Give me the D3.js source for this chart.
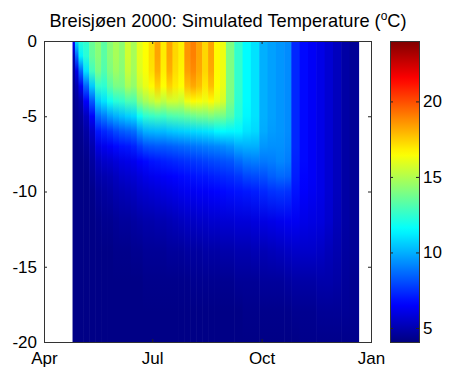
<!DOCTYPE html>
<html>
<head>
<meta charset="utf-8">
<script src="https://cdn.jsdelivr.net/npm/d3@7"></script>
<style>
  body { margin: 0; background: #fff; }
  text { font-family: Arial, "Liberation Sans", sans-serif; }
</style>
</head>
<body>
<svg id="chart" width="450" height="371"></svg>
<script>
// depth (m) of each value in a profile
const depths = [0, 1, 2, 3, 4, 5, 6, 7, 8, 9, 10, 12, 14, 16, 18, 20];

// start date of each simulated profile; the last one runs to endDate
const dates = [
  "2000-04-25", "2000-04-27", "2000-04-30", "2000-05-04", "2000-05-09", "2000-05-14",
  "2000-05-19", "2000-05-24", "2000-05-29", "2000-06-03", "2000-06-08", "2000-06-13",
  "2000-06-18", "2000-06-23", "2000-06-28", "2000-07-03", "2000-07-08", "2000-07-13",
  "2000-07-18", "2000-07-23", "2000-07-28", "2000-08-02", "2000-08-07", "2000-08-12",
  "2000-08-17", "2000-08-22", "2000-08-27", "2000-09-01", "2000-09-08", "2000-09-15",
  "2000-09-22", "2000-09-29", "2000-10-06", "2000-10-13", "2000-10-20", "2000-10-26",
  "2000-11-02", "2000-11-09", "2000-11-16", "2000-11-23", "2000-11-30", "2000-12-07",
  "2000-12-14"
];
const endDate = "2000-12-22";

// temperature (degC) profiles, one per date, values at `depths`
const temps = [
  [6.5, 5.0, 4.5, 4.3, 4.2, 4.2, 4.2, 4.2, 4.2, 4.2, 4.2, 4.2, 4.2, 4.2, 4.2, 4.2],
  [11.0, 8.5, 6.0, 5.0, 4.6, 4.4, 4.3, 4.2, 4.2, 4.2, 4.2, 4.2, 4.2, 4.2, 4.2, 4.2],
  [12.3, 11.3, 8.5, 6.3, 5.0, 4.6, 4.4, 4.3, 4.2, 4.2, 4.2, 4.2, 4.2, 4.2, 4.2, 4.2],
  [12.5, 12.3, 11.0, 8.5, 6.5, 5.3, 4.8, 4.5, 4.3, 4.2, 4.2, 4.2, 4.2, 4.2, 4.2, 4.2],
  [13.6, 13.5, 12.8, 10.5, 8.3, 6.5, 5.5, 5.0, 4.7, 4.5, 4.3, 4.2, 4.2, 4.2, 4.2, 4.2],
  [14.3, 14.2, 13.9, 12.5, 10.5, 8.6, 7.0, 6.0, 5.3, 4.9, 4.6, 4.3, 4.2, 4.2, 4.2, 4.2],
  [13.3, 13.3, 13.1, 12.4, 11.0, 9.0, 7.3, 6.2, 5.5, 5.0, 4.7, 4.4, 4.2, 4.2, 4.2, 4.2],
  [14.2, 14.2, 14.0, 13.3, 11.8, 9.6, 7.6, 6.4, 5.6, 5.1, 4.8, 4.4, 4.2, 4.2, 4.2, 4.2],
  [14.8, 14.8, 14.6, 13.9, 12.3, 10.0, 8.0, 6.7, 5.8, 5.3, 5.0, 4.5, 4.3, 4.2, 4.2, 4.2],
  [14.3, 14.3, 14.2, 13.9, 12.5, 10.3, 8.3, 6.9, 6.0, 5.5, 5.1, 4.6, 4.3, 4.2, 4.2, 4.2],
  [15.6, 15.6, 15.4, 14.8, 13.0, 10.6, 8.5, 7.0, 6.1, 5.6, 5.2, 4.6, 4.3, 4.2, 4.2, 4.2],
  [14.8, 14.8, 14.7, 14.4, 13.0, 10.8, 8.7, 7.2, 6.2, 5.7, 5.3, 4.7, 4.4, 4.2, 4.2, 4.2],
  [16.0, 16.0, 15.9, 15.5, 14.2, 11.8, 9.5, 7.7, 6.5, 5.9, 5.5, 4.8, 4.4, 4.2, 4.2, 4.2],
  [16.5, 16.5, 16.4, 16.1, 14.8, 12.4, 10.0, 8.1, 6.7, 6.1, 5.6, 4.9, 4.5, 4.3, 4.2, 4.2],
  [17.2, 17.2, 17.1, 16.6, 15.2, 12.6, 10.1, 8.2, 6.9, 6.2, 5.7, 4.9, 4.5, 4.3, 4.2, 4.2],
  [18.3, 18.3, 18.1, 17.4, 15.6, 12.8, 10.2, 8.3, 7.0, 6.3, 5.8, 5.0, 4.5, 4.3, 4.2, 4.2],
  [16.9, 16.9, 16.8, 16.5, 15.2, 12.7, 10.2, 8.3, 7.1, 6.4, 5.9, 5.0, 4.5, 4.3, 4.2, 4.2],
  [18.3, 18.3, 18.1, 17.4, 15.6, 13.0, 10.4, 8.4, 7.2, 6.5, 6.0, 5.1, 4.6, 4.3, 4.2, 4.2],
  [17.3, 17.3, 17.2, 16.9, 15.6, 13.1, 10.5, 8.5, 7.3, 6.6, 6.1, 5.2, 4.6, 4.3, 4.2, 4.2],
  [16.8, 16.8, 16.7, 16.5, 15.4, 13.2, 10.6, 8.6, 7.4, 6.7, 6.2, 5.3, 4.6, 4.3, 4.2, 4.2],
  [18.6, 18.6, 18.4, 17.8, 16.2, 13.4, 10.7, 8.7, 7.5, 6.8, 6.3, 5.4, 4.7, 4.3, 4.2, 4.2],
  [19.0, 19.0, 18.8, 18.2, 16.6, 13.6, 10.8, 8.8, 7.6, 6.9, 6.3, 5.4, 4.7, 4.4, 4.2, 4.2],
  [18.3, 18.3, 18.2, 17.8, 16.4, 13.8, 10.9, 8.9, 7.7, 7.0, 6.4, 5.5, 4.7, 4.4, 4.2, 4.2],
  [17.3, 17.3, 17.3, 17.0, 16.2, 13.8, 11.0, 9.0, 7.8, 7.0, 6.4, 5.5, 4.8, 4.4, 4.2, 4.2],
  [18.3, 18.3, 18.2, 17.8, 16.6, 14.0, 11.1, 9.1, 7.9, 7.1, 6.5, 5.6, 4.8, 4.4, 4.2, 4.2],
  [16.6, 16.6, 16.6, 16.5, 16.1, 13.8, 11.4, 9.2, 8.0, 7.2, 6.6, 5.6, 4.8, 4.4, 4.2, 4.2],
  [16.2, 16.2, 16.2, 16.1, 15.7, 13.8, 11.5, 9.3, 8.1, 7.3, 6.7, 5.7, 4.9, 4.4, 4.2, 4.2],
  [14.0, 14.0, 14.0, 14.0, 13.9, 13.2, 11.4, 9.5, 8.2, 7.4, 6.8, 5.7, 4.9, 4.4, 4.2, 4.2],
  [12.5, 12.5, 12.5, 12.5, 12.4, 12.2, 11.4, 9.9, 8.6, 7.6, 6.9, 5.8, 5.0, 4.5, 4.2, 4.2],
  [11.5, 11.5, 11.5, 11.5, 11.5, 11.4, 11.0, 10.0, 8.9, 7.9, 7.0, 5.8, 5.0, 4.5, 4.3, 4.2],
  [11.0, 11.0, 11.0, 11.0, 11.0, 11.0, 10.8, 10.0, 9.0, 8.0, 7.1, 5.9, 5.1, 4.5, 4.3, 4.2],
  [10.0, 10.0, 10.0, 10.0, 10.0, 10.0, 9.9, 9.5, 8.9, 8.1, 7.3, 6.0, 5.1, 4.6, 4.3, 4.2],
  [9.7, 9.7, 9.7, 9.7, 9.7, 9.7, 9.6, 9.4, 9.0, 8.4, 7.5, 6.1, 5.2, 4.6, 4.3, 4.2],
  [9.5, 9.5, 9.5, 9.5, 9.5, 9.5, 9.5, 9.4, 9.2, 8.6, 7.6, 6.2, 5.3, 4.6, 4.3, 4.2],
  [9.3, 9.3, 9.3, 9.3, 9.3, 9.3, 9.3, 9.2, 9.0, 8.5, 7.5, 6.3, 5.4, 4.7, 4.3, 4.2],
  [7.3, 7.3, 7.3, 7.3, 7.3, 7.3, 7.3, 7.3, 7.2, 7.1, 6.9, 6.3, 5.5, 4.8, 4.4, 4.2],
  [6.7, 6.7, 6.7, 6.7, 6.7, 6.7, 6.7, 6.7, 6.7, 6.6, 6.5, 6.1, 5.5, 4.8, 4.4, 4.3],
  [6.4, 6.4, 6.4, 6.4, 6.4, 6.4, 6.4, 6.4, 6.4, 6.4, 6.3, 6.0, 5.5, 4.8, 4.4, 4.3],
  [6.1, 6.1, 6.1, 6.1, 6.1, 6.1, 6.1, 6.1, 6.1, 6.1, 6.1, 5.9, 5.4, 4.9, 4.5, 4.3],
  [5.7, 5.7, 5.7, 5.7, 5.7, 5.7, 5.7, 5.7, 5.7, 5.7, 5.7, 5.6, 5.2, 4.9, 4.5, 4.3],
  [5.3, 5.3, 5.3, 5.3, 5.3, 5.3, 5.3, 5.3, 5.3, 5.3, 5.3, 5.2, 5.0, 4.8, 4.5, 4.3],
  [4.8, 4.8, 4.8, 4.8, 4.8, 4.8, 4.8, 4.8, 4.8, 4.8, 4.8, 4.8, 4.7, 4.6, 4.5, 4.3],
  [4.5, 4.5, 4.5, 4.5, 4.5, 4.5, 4.5, 4.5, 4.5, 4.5, 4.5, 4.5, 4.5, 4.4, 4.4, 4.3]
];

const monthTicks = ["2000-04-01", "2000-07-01", "2000-10-01", "2001-01-01"];
const monthLabels = ["Apr", "Jul", "Oct", "Jan"];
const depthTicks = [0, -5, -10, -15, -20];
const colorTicks = [5, 10, 15, 20];
const tempRange = [4.07, 24];

const parse = d3.utcParse("%Y-%m-%d");
const svg = d3.select("#chart");
const margin = {top: 41, right: 79, bottom: 29, left: 44};
const width = 450, height = 371;

const x = d3.scaleUtc()
    .domain([parse(monthTicks[0]), parse(monthTicks[3])])
    .range([margin.left, width - margin.right]);
const y = d3.scaleLinear()
    .domain([-20, 0])
    .range([height - margin.bottom, margin.top]);

// matlab jet
function jet(t) {
    const c = v => Math.max(0, Math.min(1, 1.5 - Math.abs(v)));
    return d3.rgb(255 * c(4 * t - 3), 255 * c(4 * t - 2), 255 * c(4 * t - 1)).toString();
}
const color = d3.scaleSequential(jet).domain(tempRange);

const defs = svg.append("defs");

// one vertical gradient per profile
dates.forEach((d, i) => {
    const g = defs.append("linearGradient")
        .attr("id", "col" + i)
        .attr("gradientUnits", "userSpaceOnUse")
        .attr("x1", 0).attr("x2", 0)
        .attr("y1", y(0)).attr("y2", y(-20));
    g.selectAll("stop")
        .data(depths)
        .join("stop")
        .attr("offset", (dep) => (y(-dep) - y(0)) / (y(-20) - y(0)))
        .attr("stop-color", (dep, j) => color(temps[i][j]));
});

const bounds = dates.concat([endDate]).map(parse);

svg.append("g")
    .selectAll("rect")
    .data(dates)
    .join("rect")
    .attr("x", (d, i) => x(bounds[i]))
    .attr("width", (d, i) => x(bounds[i + 1]) - x(bounds[i]) + (i < dates.length - 1 ? 0.6 : 0))
    .attr("y", y(0))
    .attr("height", y(-20) - y(0))
    .attr("fill", (d, i) => `url(#col${i})`);

// axes, matlab style ticks pointing in
const tickDates = monthTicks.map(parse);
const fontSize = 17;

svg.append("g")
    .attr("transform", `translate(0,${y(-20)})`)
    .call(d3.axisBottom(x).tickValues(tickDates).tickFormat((d, i) => monthLabels[i])
        .tickSizeInner(-3).tickSizeOuter(0).tickPadding(10));
svg.append("g")
    .attr("transform", `translate(0,${y(0)})`)
    .call(d3.axisTop(x).tickValues(tickDates).tickFormat("")
        .tickSizeInner(-3).tickSizeOuter(0));
svg.append("g")
    .attr("transform", `translate(${x.range()[0]},0)`)
    .call(d3.axisLeft(y).tickValues(depthTicks).tickFormat(d => String(d))
        .tickSizeInner(-3).tickSizeOuter(0).tickPadding(7));
svg.append("g")
    .attr("transform", `translate(${x.range()[1]},0)`)
    .call(d3.axisRight(y).tickValues(depthTicks).tickFormat("")
        .tickSizeInner(-3).tickSizeOuter(0));

svg.selectAll(".domain").remove();
svg.selectAll(".tick text").attr("font-size", fontSize).attr("fill", "#000")
    .attr("font-family", "Arial, 'Liberation Sans', sans-serif");

svg.append("rect")
    .attr("x", x.range()[0] + 0.5).attr("y", y(0) + 0.5)
    .attr("width", x.range()[1] - x.range()[0]).attr("height", y(-20) - y(0))
    .attr("fill", "none").attr("stroke", "#333");

// colorbar
const cb = {x0: 390, x1: 419};
const cy = d3.scaleLinear().domain(tempRange).range([y(-20), y(0)]);
const cbGrad = defs.append("linearGradient")
    .attr("id", "cbar")
    .attr("x1", 0).attr("x2", 0).attr("y1", 1).attr("y2", 0);
cbGrad.selectAll("stop")
    .data(d3.range(0, 1.0001, 0.02))
    .join("stop")
    .attr("offset", t => t)
    .attr("stop-color", t => jet(t));

svg.append("rect")
    .attr("x", cb.x0).attr("y", y(0))
    .attr("width", cb.x1 - cb.x0).attr("height", y(-20) - y(0))
    .attr("fill", "url(#cbar)");

svg.append("g")
    .attr("transform", `translate(${cb.x1},0)`)
    .call(d3.axisRight(cy).tickValues(colorTicks).tickFormat(d => String(d))
        .tickSizeInner(-3).tickSizeOuter(0).tickPadding(4))
    .call(g => g.select(".domain").remove())
    .call(g => g.selectAll("text").attr("font-size", fontSize).attr("fill", "#000")
        .attr("font-family", "Arial, 'Liberation Sans', sans-serif"));
svg.append("g")
    .attr("transform", `translate(${cb.x0},0)`)
    .call(d3.axisLeft(cy).tickValues(colorTicks).tickFormat("")
        .tickSizeInner(-3).tickSizeOuter(0))
    .call(g => g.select(".domain").remove());
svg.selectAll(".tick line").attr("stroke", "#222");

svg.append("rect")
    .attr("x", cb.x0 + 0.5).attr("y", y(0) + 0.5)
    .attr("width", cb.x1 - cb.x0).attr("height", y(-20) - y(0))
    .attr("fill", "none").attr("stroke", "#333");

// title
const title = svg.append("text")
    .attr("x", 228).attr("y", 27)
    .attr("text-anchor", "middle")
    .attr("font-size", 18.2)
    .attr("fill", "#000");
title.append("tspan").text("Breisjøen 2000: Simulated Temperature (");
title.append("tspan").attr("font-size", 12).attr("dy", -7).text("o");
title.append("tspan").attr("dy", 7).text("C)");
</script>
</body>
</html>
